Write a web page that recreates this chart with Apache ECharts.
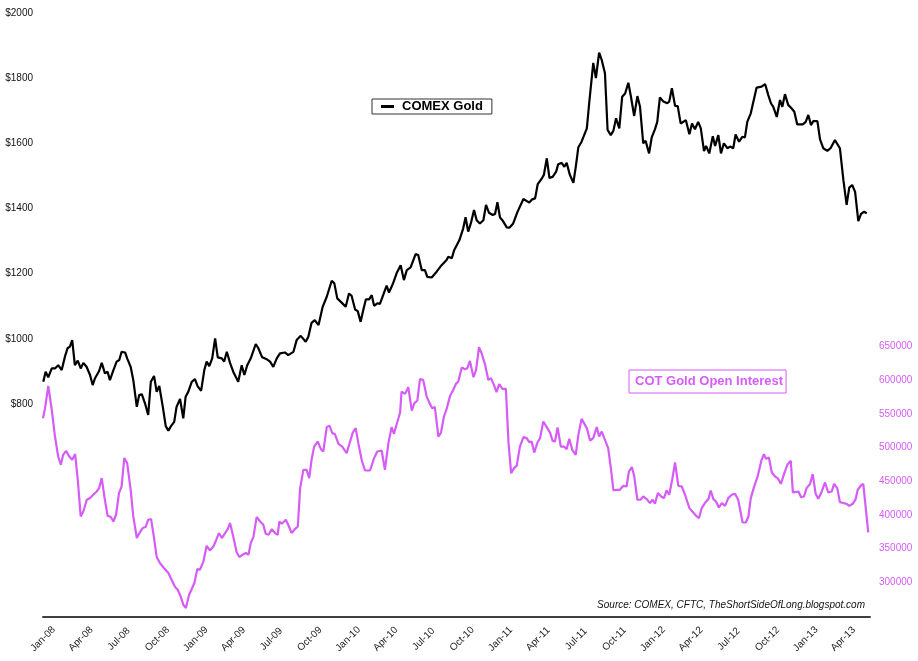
<!DOCTYPE html>
<html><head><meta charset="utf-8">
<script src="https://cdn.jsdelivr.net/npm/echarts@6/dist/echarts.min.js"></script>
<style>html,body{margin:0;padding:0;background:#fff}#c{width:918px;height:661px}</style>
</head><body><div id="c"></div>
<script>
// weeks since 1 Jan 2008
const goldWeeks = [0.1,0.9,1.8,3.0,4.1,5.2,6.4,7.5,8.4,9.2,10.0,10.9,11.9,12.9,13.8,14.9,16.1,17.0,17.8,19.2,20.1,21.2,22.1,22.9,24.1,25.2,26.1,26.9,28.1,28.8,30.0,30.9,32.1,32.9,33.8,34.9,36.0,36.9,38.0,38.9,39.8,41.0,42.0,42.9,43.8,44.9,45.7,46.9,48.0,48.8,49.7,50.9,52.0,52.9,54.1,55.2,56.0,56.9,57.9,58.9,59.8,61.2,62.0,62.9,64.0,65.1,66.8,68.0,68.9,69.9,71.1,72.8,73.7,75.0,76.6,77.7,78.8,80.0,81.1,82.8,83.9,85.7,86.8,88.2,88.7,89.9,90.8,91.9,93.0,94.3,
95.7,97.1,98.8,99.7,100.7,102.2,103.6,104.7,105.6,106.8,107.7,108.7,109.6,110.5,111.6,112.5,113.3,114.4,115.3,116.4,117.6,118.4,119.7,121.0,122.4,123.5,124.5,125.8,127.5,128.4,129.6,130.7,131.5,133.0,133.6,134.7,136.4,138.1,138.7,139.9,140.7,142.5,143.8,144.6,145.5,146.4,147.5,148.4,149.5,150.7,151.6,152.6,153.9,154.7,155.5,156.4,157.2,158.7,159.6,160.9,162.3,164.4,166.4,167.4,168.4,169.3,170.7,171.4,172.4,173.3,174.4,175.6,176.3,177.5,178.4,179.2,180.3,181.5,182.4,183.2,184.3,186.1,186.9,188.3,189.2,190.3,
191.2,192.3,193.2,194.3,195.2,196.1,197.2,198.2,199.2,200.3,201.2,202.3,203.4,204.3,205.4,206.2,207.4,208.3,209.4,210.2,211.1,212.3,213.6,214.3,215.2,216.3,217.2,218.2,220.0,221.2,222.1,223.1,224.2,225.1,226.2,226.9,228.0,229.2,230.0,231.1,232.0,233.0,234.2,235.1,236.2,237.0,238.2,239.3,240.2,241.0,242.2,244.2,245.9,247.1,248.2,249.1,249.9,251.1,252.2,253.0,253.9,255.0,256.2,257.1,258.1,260.0,261.0,261.9,262.8,263.6,265.0,265.9,267.0,268.4,269.5,271.0,272.7,273.9,275.0,275.9,276.9,277.9,279.0,279.9,281.0,281.9];
const goldPrices = [868,899,882,909,909,919,904,945,971,976,996,919,933,909,926,914,889,858,879,901,926,894,899,873,904,930,935,960,958,940,914,873,791,827,830,802,766,868,886,837,855,791,732,718,732,745,791,815,756,822,837,868,876,855,840,904,930,916,940,1001,943,940,930,960,926,899,868,919,889,919,940,984,971,943,937,930,914,940,955,958,950,960,996,1009,1011,991,1006,1049,1057,1042,
1098,1129,1178,1170,1124,1111,1098,1139,1132,1090,1085,1052,1088,1121,1121,1134,1101,1109,1107,1134,1163,1142,1168,1201,1226,1180,1211,1219,1260,1257,1211,1211,1190,1188,1183,1206,1226,1242,1252,1247,1272,1303,1339,1373,1329,1354,1395,1364,1354,1364,1411,1387,1380,1383,1419,1372,1364,1342,1341,1354,1388,1429,1418,1428,1431,1475,1492,1503,1554,1494,1497,1513,1536,1540,1528,1540,1503,1479,1533,1588,1605,1646,1723,1847,1800,1878,
1856,1815,1641,1625,1639,1677,1646,1743,1753,1786,1743,1684,1745,1712,1600,1608,1569,1618,1643,1666,1741,1728,1723,1728,1769,1715,1714,1661,1671,1628,1661,1643,1666,1646,1576,1592,1569,1622,1592,1625,1569,1600,1585,1590,1585,1627,1605,1620,1618,1666,1692,1771,1774,1782,1748,1723,1712,1681,1733,1712,1751,1718,1707,1697,1658,1658,1666,1687,1656,1668,1668,1612,1585,1577,1585,1610,1585,1487,1411,1464,1472,1451,1361,1383,1390,1385];

const cotWeeks = [0.0,0.7,1.8,3.0,4.1,5.2,6.1,6.9,7.9,9.0,10.0,11.0,11.9,12.9,13.8,15.0,16.1,17.2,18.4,19.2,20.1,21.0,22.1,23.2,24.1,25.0,26.0,26.9,27.8,28.8,30.0,30.9,32.1,33.0,34.1,35.1,36.0,37.0,38.0,38.9,40.0,41.4,42.9,44.0,45.2,46.1,47.1,48.0,48.9,50.0,50.9,51.8,52.8,53.7,54.9,56.0,57.1,58.3,59.2,60.2,61.2,62.3,63.2,64.0,65.1,66.3,67.2,68.3,69.4,70.3,71.1,72.0,73.1,74.3,75.4,76.2,77.2,78.3,79.4,80.3,80.9,81.7,83.1,83.9,85.1,86.2,87.2,88.0,89.1,90.2,91.1,91.9,92.8,94.0,95.1,95.9,
97.1,98.0,99.0,99.9,101.1,102.4,103.9,105.1,106.0,107.0,107.9,109.1,110.2,111.9,113.3,114.4,115.9,117.0,118.2,119.3,120.1,121.2,122.2,122.7,123.9,125.0,126.2,127.1,128.1,129.0,130.1,131.3,132.4,133.2,134.1,135.3,136.2,137.2,138.1,139.3,140.4,141.3,142.1,143.3,144.4,145.2,146.1,147.3,148.2,149.2,150.1,151.3,152.4,153.3,154.3,155.2,156.1,157.2,158.4,159.3,160.2,161.2,162.1,163.2,164.4,165.5,166.4,167.2,168.1,169.2,170.1,171.2,172.4,173.5,174.4,175.2,176.1,177.2,178.3,179.2,180.1,181.1,182.3,183.2,184.3,186.1,187.2,188.3,189.5,190.3,191.2,192.3,193.4,194.4,195.2,196.3,197.4,198.6,199.7,200.5,201.5,202.3,203.4,204.5,205.4,206.6,207.7,208.6,209.4,210.4,211.7,212.5,213.4,214.3,215.3,216.3,217.4,218.6,219.9,221.2,222.5,223.5,224.5,225.4,226.5,227.7,228.5,229.4,230.3,231.3,232.3,233.4,234.5,235.7,236.8,237.9,239.4,240.5,241.4,242.2,243.3,244.6,245.9,246.7,247.4,248.4,249.4,250.5,251.4,252.5,253.6,254.7,255.9,256.6,257.3,258.5,259.4,260.4,261.3,262.5,263.4,264.4,265.3,266.5,267.6,268.7,269.9,270.7,271.8,272.7,273.9,275.0,275.9,277.1,278.1,278.8,279.9,280.7,282.4];
const cotOpenInterest = [543600,558500,591600,556000,516300,486600,474300,489100,495100,486600,481700,490200,452000,397500,404900,422300,424800,429700,434600,439600,454500,427200,398500,396600,390000,400000,432200,442000,484200,476800,437100,397500,365400,372800,380200,381700,392600,393600,365400,337100,328200,320800,313400,303400,292600,288600,278600,266300,261400,281100,289600,298500,319300,318300,330600,353900,346900,352900,361800,372800,365400,372800,378700,387600,367700,344000,337100,340600,343100,340600,357900,366900,396600,390000,385100,371800,370300,378700,372800,370300,390000,386600,392600,385100,372800,378700,382600,440000,466800,466800,454500,481700,501400,508900,497600,494000,
530300,532600,521400,519900,505500,501400,491600,508900,522200,528800,506500,480600,465800,465800,484200,494000,495500,466800,506500,530300,520300,537100,552000,583200,579700,589700,554900,565900,569800,601600,600500,575700,564900,558500,560000,516300,522200,546000,557000,576800,585700,594600,598000,618800,616400,617900,628800,604600,615400,649100,640200,622800,600500,603100,593100,582300,594100,587200,587200,506500,461900,469400,472800,501400,515400,513900,508000,508900,492500,507400,513900,538600,530300,522200,509900,508900,529700,501400,501400,497600,512900,496500,489100,518800,542600,528800,510400,513900,530300,516300,523700,511400,499100,466800,436100,437100,437100,443000,442000,464300,470800,457900,422300,422300,427200,423300,417400,422300,416300,432200,426300,424800,436100,429700,452000,477700,443000,442000,427200,409900,403400,398500,395100,409900,417400,423300,436100,423300,419700,410800,417400,413300,424800,429700,431200,422300,388500,388500,397500,424800,441100,457900,481700,490200,483200,485100,462800,456900,454500,446000,460900,474300,480200,433100,433700,434600,426300,427200,439600,446000,460400,431200,423800,434600,448000,433100,434600,446000,439600,418800,417400,416300,413300,416300,423300,437100,443500,446000,373700];

const quarterLabels = ['Jan-08','Apr-08','Jul-08','Oct-08','Jan-09','Apr-09','Jul-09','Oct-09','Jan-10','Apr-10','Jul-10','Oct-10','Jan-11','Apr-11','Jul-11','Oct-11','Jan-12','Apr-12','Jul-12','Oct-12','Jan-13','Apr-13'];
const goldAxisLabels = [800,1000,1200,1400,1600,1800,2000];
const cotAxisLabels = [300000,350000,400000,450000,500000,550000,600000,650000];

const MONTHS = {Jan:0, Apr:3, Jul:6, Oct:9};
const WEEK_MS = 7 * 86400000;
const tickWeeks = quarterLabels.map(l => {
  const p = l.split('-');
  return (Date.UTC(2000 + Number(p[1]), MONTHS[p[0]], 1) - Date.UTC(2008, 0, 1)) / WEEK_MS;
});
function weekLabel(v) {
  for (let i = 0; i < tickWeeks.length; i++) if (Math.abs(tickWeeks[i] - v) < 1e-6) return quarterLabels[i];
  return '';
}

const FONT = '"Liberation Sans", Arial, sans-serif';
const COT_COLOR = '#d65cf7';

const chart = echarts.init(document.getElementById('c'), null, {renderer: 'canvas'});
chart.setOption({
  animation: false,
  backgroundColor: '#ffffff',
  grid: {left: 43, right: 48, top: 13, bottom: 44, containLabel: false, outerBoundsMode: 'none'},
  legend: [
    {
      data: [{name: 'COMEX Gold', icon: 'rect'}],
      left: 372, top: 99,
      itemWidth: 13, itemHeight: 3, itemGap: 0,
      padding: [1, 9, 1, 9],
      borderColor: '#333', borderWidth: 1,
      textStyle: {color: '#000', fontSize: 13, fontWeight: 'bold', fontFamily: FONT, padding: [0, 0, 0, 3]}
    },
    {
      data: [{name: 'COT Gold Open Interest'}],
      left: 629, top: 370,
      itemWidth: 0, itemHeight: 0, itemGap: 0,
      padding: [5, 3, 5, 0],
      borderColor: COT_COLOR, borderWidth: 1,
      textStyle: {color: COT_COLOR, fontSize: 13, fontWeight: 'bold', fontFamily: FONT}
    }
  ],
  xAxis: {
    type: 'value', min: 0, max: 283,
    axisLine: {show: true, lineStyle: {color: '#404040', width: 2}},
    axisTick: {show: false},
    splitLine: {show: false},
    axisLabel: {
      customValues: tickWeeks, formatter: weekLabel,
      rotate: 45, align: 'center', verticalAlign: 'middle', margin: 22,
      fontSize: 10, color: '#222', fontFamily: FONT
    }
  },
  yAxis: [
    {
      type: 'value', min: 146, max: 2000, position: 'left',
      axisLine: {show: false}, axisTick: {show: false}, splitLine: {show: false},
      axisLabel: {customValues: goldAxisLabels, formatter: v => '$' + v, margin: 10, fontSize: 10, color: '#111', fontFamily: FONT}
    },
    {
      type: 'value', min: 248000, max: 1146000, position: 'right',
      axisLine: {show: false}, axisTick: {show: false}, splitLine: {show: false},
      axisLabel: {customValues: cotAxisLabels, formatter: v => String(v), margin: 9, fontSize: 10, color: COT_COLOR, fontFamily: FONT}
    }
  ],
  graphic: [{
    type: 'text', right: 53, top: 600,
    style: {text: 'Source: COMEX, CFTC, TheShortSideOfLong.blogspot.com', font: 'italic 10px ' + FONT, fill: '#111'}
  }],
  series: [
    {
      name: 'COMEX Gold', type: 'line', yAxisIndex: 0, symbol: 'none',
      data: goldWeeks.map((w, i) => [w, goldPrices[i]]),
      lineStyle: {color: '#000', width: 2.2}, itemStyle: {color: '#000'}, z: 3
    },
    {
      name: 'COT Gold Open Interest', type: 'line', yAxisIndex: 1, symbol: 'none',
      data: cotWeeks.map((w, i) => [w, cotOpenInterest[i]]),
      lineStyle: {color: COT_COLOR, width: 2.2}, itemStyle: {color: COT_COLOR}, z: 2
    }
  ]
});
</script>
</body></html>
